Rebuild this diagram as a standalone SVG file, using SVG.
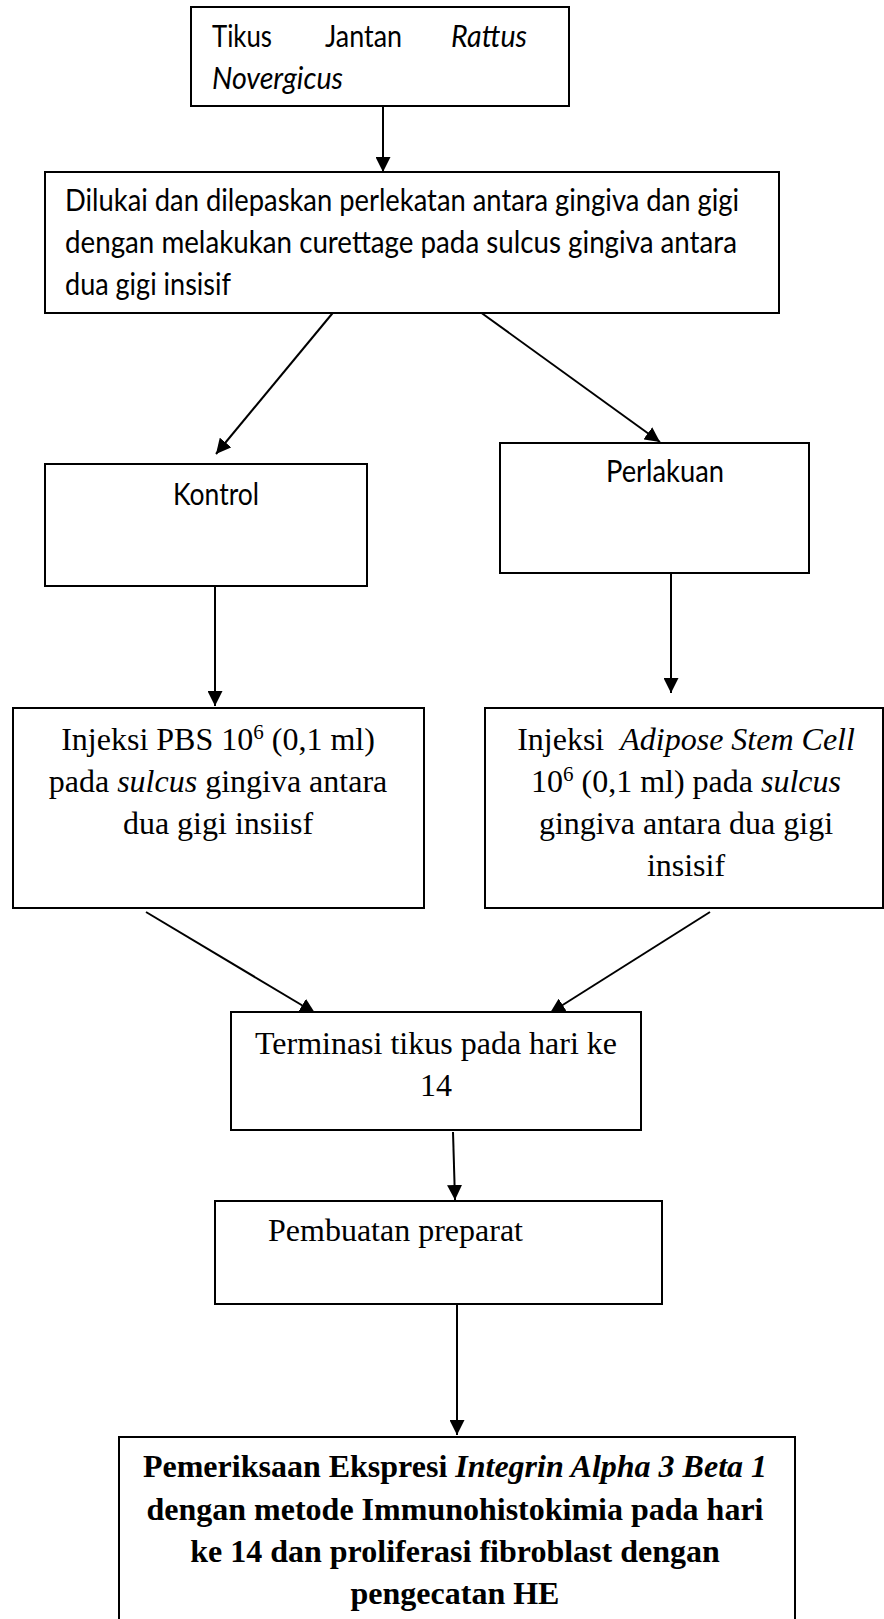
<svg xmlns="http://www.w3.org/2000/svg" width="884" height="1619" viewBox="0 0 884 1619">
<style>
.box{fill:#fff;stroke:#000;stroke-width:2}
.sans{font-family:Lato,"Open Sans","DejaVu Sans",sans-serif;font-size:30.5px;fill:#000}
.serif{font-family:"Liberation Serif","Times New Roman",serif;font-size:32px;fill:#000}
.bold{font-weight:bold}
.it{font-style:italic}
.mid{text-anchor:middle}
.conn{stroke:#000;stroke-width:2;fill:none;marker-end:url(#ah)}
</style>
<defs>
<marker id="ah" markerUnits="userSpaceOnUse" markerWidth="15" markerHeight="15" refX="15" refY="7.5" orient="auto" viewBox="0 0 15 15">
<path d="M0,0 L15,7.5 L0,15 z" fill="#000"/>
</marker>
</defs>
<rect width="884" height="1619" fill="#fff"/>

<g id="connectors">
<line class="conn" x1="383" y1="106" x2="383" y2="172"/>
<line class="conn" x1="336" y1="309" x2="216" y2="454"/>
<line class="conn" x1="476" y1="309" x2="660" y2="442"/>
<line class="conn" x1="215" y1="586" x2="215" y2="706"/>
<line class="conn" x1="671" y1="573" x2="671" y2="693"/>
<line class="conn" x1="146" y1="912" x2="315" y2="1013"/>
<line class="conn" x1="710" y1="912" x2="550" y2="1013"/>
<line class="conn" x1="453" y1="1132" x2="455" y2="1200"/>
<line class="conn" x1="457" y1="1305" x2="457" y2="1435"/>
</g>

<g id="node-tikus">
<rect class="box" x="191" y="7" width="378" height="99"/>
<text class="sans" x="212" y="47" textLength="60" lengthAdjust="spacingAndGlyphs">Tikus</text>
<text class="sans" x="325" y="47" textLength="77" lengthAdjust="spacingAndGlyphs">Jantan</text>
<text class="sans it" x="451" y="47" textLength="76" lengthAdjust="spacingAndGlyphs">Rattus</text>
<text class="sans it" x="212" y="89" textLength="131" lengthAdjust="spacingAndGlyphs">Novergicus</text>
</g>

<g id="node-dilukai">
<rect class="box" x="45" y="172" width="734" height="141"/>
<text class="sans" x="65" y="211" textLength="674" lengthAdjust="spacingAndGlyphs">Dilukai dan dilepaskan perlekatan antara gingiva dan gigi</text>
<text class="sans" x="65" y="253" textLength="672" lengthAdjust="spacingAndGlyphs">dengan melakukan curettage pada sulcus gingiva antara</text>
<text class="sans" x="65" y="295" textLength="166" lengthAdjust="spacingAndGlyphs">dua gigi insisif</text>
</g>

<g id="node-kontrol">
<rect class="box" x="45" y="464" width="322" height="122"/>
<text class="sans" x="173" y="505" textLength="86" lengthAdjust="spacingAndGlyphs">Kontrol</text>
</g>

<g id="node-perlakuan">
<rect class="box" x="500" y="443" width="309" height="130"/>
<text class="sans" x="606" y="482" textLength="118" lengthAdjust="spacingAndGlyphs">Perlakuan</text>
</g>

<g id="node-pbs">
<rect class="box" x="13" y="708" width="411" height="200"/>
<text class="serif mid" x="218" y="750">Injeksi PBS 10<tspan font-size="21" dy="-11">6</tspan><tspan dy="11"> (0,1 ml)</tspan></text>
<text class="serif mid" x="218" y="792">pada <tspan class="it">sulcus</tspan> gingiva antara</text>
<text class="serif mid" x="218" y="834">dua gigi insiisf</text>
</g>

<g id="node-asc">
<rect class="box" x="485" y="708" width="398" height="200"/>
<text class="serif mid" x="686" y="750" xml:space="preserve">Injeksi  <tspan class="it">Adipose Stem Cell</tspan></text>
<text class="serif mid" x="686" y="792">10<tspan font-size="21" dy="-11">6</tspan><tspan dy="11"> (0,1 ml) pada </tspan><tspan class="it">sulcus</tspan></text>
<text class="serif mid" x="686" y="834">gingiva antara dua gigi</text>
<text class="serif mid" x="686" y="876">insisif</text>
</g>

<g id="node-terminasi">
<rect class="box" x="231" y="1012" width="410" height="118"/>
<text class="serif mid" x="436" y="1054">Terminasi tikus pada hari ke</text>
<text class="serif mid" x="436" y="1096">14</text>
</g>

<g id="node-pembuatan">
<rect class="box" x="215" y="1201" width="447" height="103"/>
<text class="serif" x="268" y="1241">Pembuatan preparat</text>
</g>

<g id="node-pemeriksaan">
<rect class="box" x="119" y="1437" width="676" height="200"/>
<text class="serif bold mid" x="455" y="1477">Pemeriksaan Ekspresi <tspan class="it">Integrin Alpha 3 Beta 1</tspan></text>
<text class="serif bold mid" x="455" y="1520">dengan metode Immunohistokimia pada hari</text>
<text class="serif bold mid" x="455" y="1562">ke 14 dan proliferasi fibroblast dengan</text>
<text class="serif bold mid" x="455" y="1604">pengecatan HE</text>
</g>
</svg>
